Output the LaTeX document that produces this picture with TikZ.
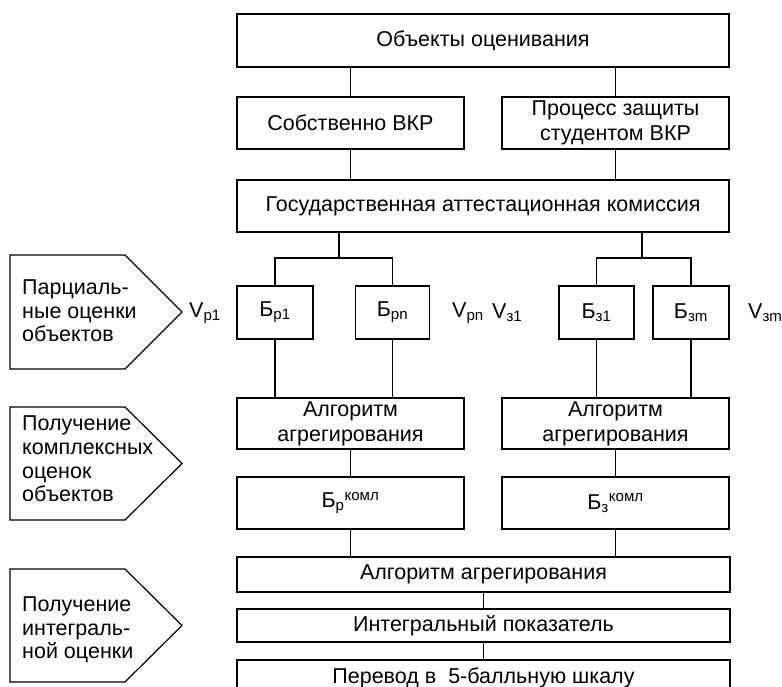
\documentclass[tikz,border=0pt]{standalone}
\usepackage{fontspec}
\setmainfont{Liberation Sans}
\tikzset{
  box/.style={draw, line width=1.2pt, inner sep=0pt, align=center,
    font=\fontsize{21.5}{25}\selectfont},
  link/.style={line width=1.2pt},
  pent/.style={draw, line width=1.2pt, line join=miter},
  side/.style={inner sep=0pt, anchor=west, align=left,
    font=\fontsize{21.5}{23.7}\selectfont},
  vlbl/.style={inner sep=0pt, anchor=west, font=\fontsize{21.5}{25}\selectfont},
}
\begin{document}
\begin{tikzpicture}[x=1pt,y=-1pt]
\clip (0,0) rectangle (782,687);

% upper part of the tree
\node[box, minimum width=492, minimum height=53] (obj) at (483,40.5) {Объекты оценивания};
\node[box, minimum width=227, minimum height=52] (vkr) at (350.5,123) {Собственно ВКР};
\node[box, minimum width=227, minimum height=52] (proc) at (615.5,123) {Процесс защиты\\студентом ВКР};
\node[box, minimum width=492, minimum height=52] (gak) at (483,206) {Государственная аттестационная комиссия};

% partial scores
\node[box, minimum width=76, minimum height=53] (bp1) at (275,312.5) {Б\textsubscript{р1}};
\node[box, minimum width=74, minimum height=53] (bpn) at (392.5,312.5) {Б\textsubscript{рn}};
\node[box, minimum width=75, minimum height=53] (b31) at (596.5,312.5) {Б\textsubscript{з1}};
\node[box, minimum width=76, minimum height=53] (b3m) at (691,312.5) {Б\textsubscript{зm}};

\node[vlbl] (vp1) at (189,313) {V\textsubscript{р1}};
\node[vlbl] (vpn) at (452,313) {V\textsubscript{рn}};
\node[vlbl] (v31) at (492,313) {V\textsubscript{з1}};
\node[vlbl] (v3m) at (748,313) {V\textsubscript{зm}};

% complex scores
\node[box, minimum width=227, minimum height=51] (alg1) at (350.5,423.5) {Алгоритм\\агрегирования};
\node[box, minimum width=227, minimum height=51] (alg2) at (615.5,423.5) {Алгоритм\\агрегирования};
\node[box, minimum width=227, minimum height=52] (bk1) at (350.5,503) {Б\textsubscript{р}\textsuperscript{комл}};
\node[box, minimum width=227, minimum height=52] (bk2) at (615.5,503) {Б\textsubscript{з}\textsuperscript{комл}};

% integral score
\node[box, minimum width=493, minimum height=35] (algall) at (483.5,574.5) {Алгоритм агрегирования};
\node[box, minimum width=493, minimum height=33] (integ) at (483.5,625.5) {Интегральный показатель};
\node[box, minimum width=493, minimum height=35] (perev) at (483.5,677.5) {Перевод в~~5-балльную шкалу};

% junction points under the commission box
\coordinate (jl) at (339,258);
\coordinate (jr) at (642,258);

% connectors
\draw[link] (vkr.north |- obj.south) -- (vkr.north);
\draw[link] (proc.north |- obj.south) -- (proc.north);
\draw[link] (vkr.south) -- (vkr.south |- gak.north);
\draw[link] (proc.south) -- (proc.south |- gak.north);
\draw[link] (jl |- gak.south) -- (jl);
\draw[link] (jr |- gak.south) -- (jr);
\draw[link] (bp1.north) -- (bp1.north |- jl) -- (bpn.north |- jl) -- (bpn.north);
\draw[link] (b31.north) -- (b31.north |- jr) -- (b3m.north |- jr) -- (b3m.north);
\draw[link] (bp1.south) -- (bp1.south |- alg1.north);
\draw[link] (bpn.south) -- (bpn.south |- alg1.north);
\draw[link] (b31.south) -- (b31.south |- alg2.north);
\draw[link] (b3m.south) -- (b3m.south |- alg2.north);
\draw[link] (alg1.south) -- (bk1.north);
\draw[link] (alg2.south) -- (bk2.north);
\draw[link] (bk1.south) -- (bk1.south |- algall.north);
\draw[link] (bk2.south) -- (bk2.south |- algall.north);
\draw[link] (algall.south) -- (integ.north);
\draw[link] (integ.south) -- (perev.north);

% stage pointers on the left
\draw[pent] (10,255) -- (125,255) -- (182,312) -- (125,369) -- (10,369) -- cycle;
\node[side] (st1) at (22,311) {Парциаль-\\ные оценки\\объектов};
\draw[pent] (10,407) -- (125,407) -- (182,463.5) -- (125,520) -- (10,520) -- cycle;
\node[side] (st2) at (22,459) {Получение\\комплексных\\оценок\\объектов};
\draw[pent] (10,569) -- (125,569) -- (182,625.5) -- (125,682) -- (10,682) -- cycle;
\node[side] (st3) at (22,630) {Получение\\интеграль-\\ной оценки};
\end{tikzpicture}
\end{document}
